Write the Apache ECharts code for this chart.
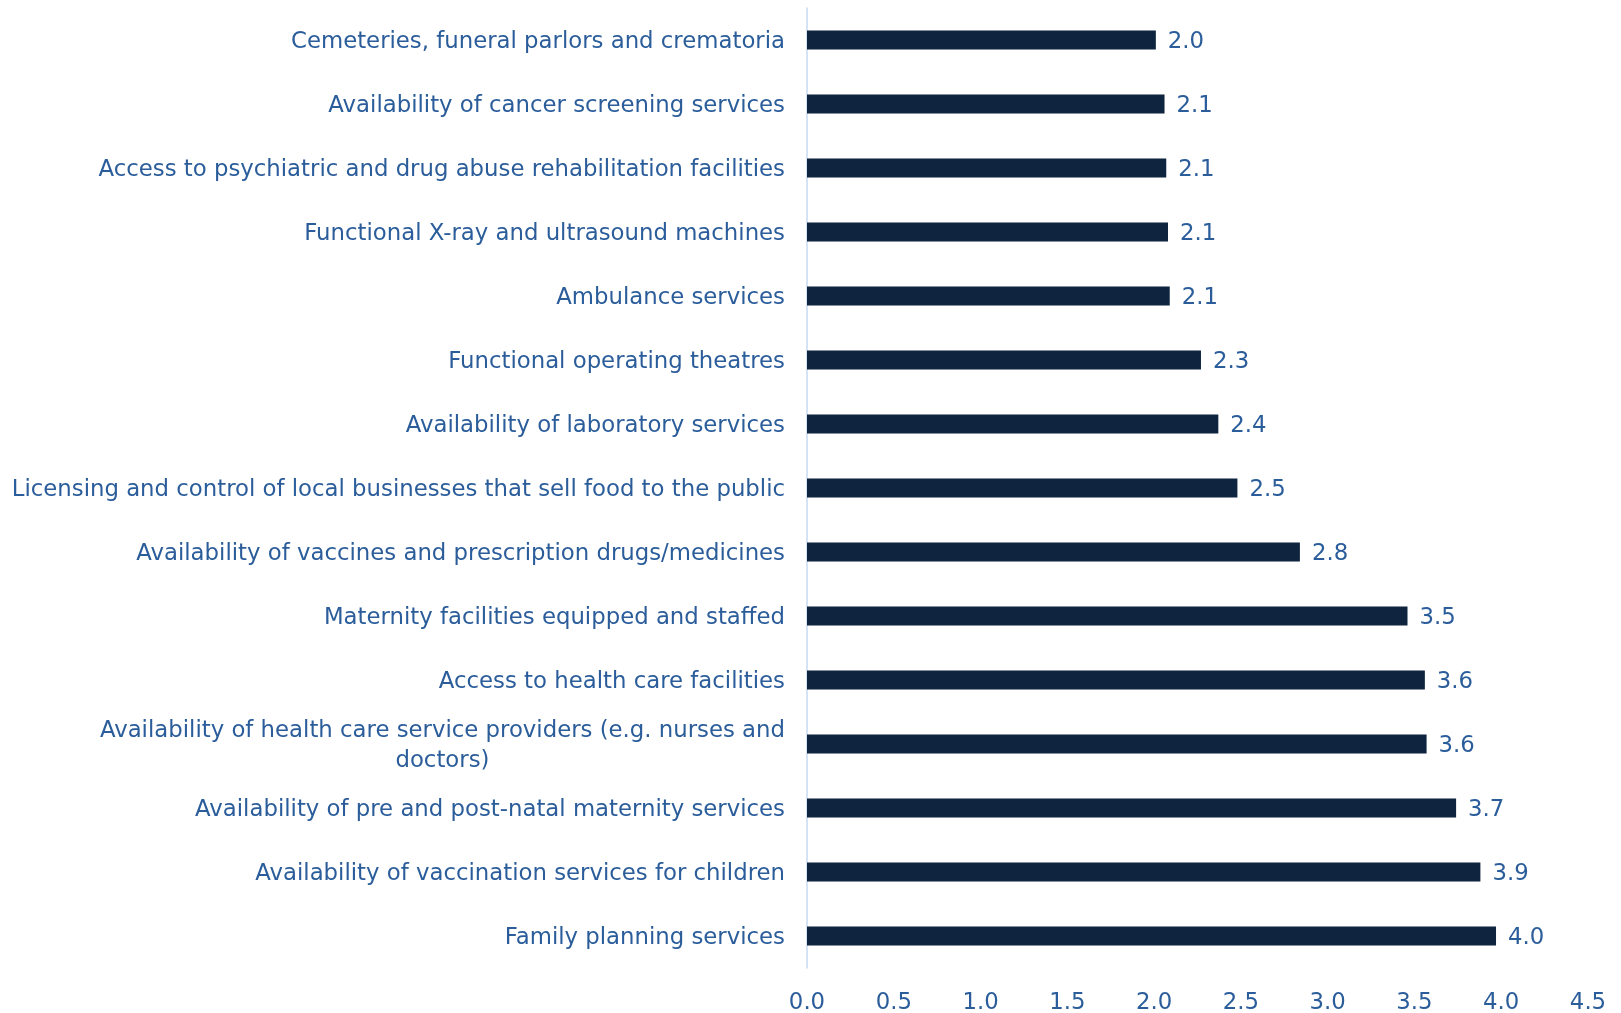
<!DOCTYPE html>
<html>
<head>
<meta charset="utf-8">
<script src="https://cdn.jsdelivr.net/npm/echarts@6/dist/echarts.min.js"></script>
<style>
  html, body { margin: 0; padding: 0; background: #fff; }
  #chart { width: 1621px; height: 1013px; }
</style>
</head>
<body>
<div id="chart"></div>
<script>
// categories from top to bottom
const categories = [
  'Cemeteries, funeral parlors and crematoria',
  'Availability of cancer screening services',
  'Access to psychiatric and drug abuse rehabilitation facilities',
  'Functional X-ray and ultrasound machines',
  'Ambulance services',
  'Functional operating theatres',
  'Availability of laboratory services',
  'Licensing and control of local businesses that sell food to the public',
  'Availability of vaccines and prescription drugs/medicines',
  'Maternity facilities equipped and staffed',
  'Access to health care facilities',
  'Availability of health care service providers (e.g. nurses and\ndoctors)',
  'Availability of pre and post-natal maternity services',
  'Availability of vaccination services for children',
  'Family planning services'
]
const values = [2.01, 2.06, 2.07, 2.08, 2.09, 2.27, 2.37, 2.48, 2.84, 3.46, 3.56, 3.57, 3.74, 3.88, 3.97]

const textColor = '#2b5d9b'
const barColor = '#0f243e'
const fontFamily = '"DejaVu Sans", sans-serif'
const fontSize = 22.8

let myChart = echarts.init(document.getElementById('chart'))
myChart.setOption({
  animation: false,
  grid: { left: 807, right: 33, top: 8, bottom: 45, containLabel: false, outerBoundsMode: 'none' },
  xAxis: {
    type: 'value',
    min: 0,
    max: 4.5,
    interval: 0.5,
    splitLine: { show: false },
    axisLine: { show: false },
    axisTick: { show: false },
    axisLabel: {
      margin: 24,
      color: textColor,
      fontSize: fontSize,
      fontFamily: fontFamily,
      formatter: v => v.toFixed(1)
    }
  },
  yAxis: {
    type: 'category',
    inverse: true,
    data: categories,
    axisLine: { show: true, lineStyle: { color: '#c5d9f1', width: 1.5 } },
    axisTick: { show: false },
    axisLabel: {
      margin: 22,
      padding: [4, 0, 0, 0],
      formatter: v => v.split('\n').map(s => '{c|' + s + '}').join('\n'),
      rich: {
        c: {
          align: 'center',
          color: textColor,
          fontSize: fontSize,
          fontFamily: fontFamily,
          lineHeight: 30
        }
      }
    }
  },
  series: [
    {
      type: 'bar',
      data: values,
      barWidth: 19,
      itemStyle: { color: barColor },
      label: {
        show: true,
        position: 'right',
        distance: 12,
        offset: [0, 2],
        color: textColor,
        fontSize: fontSize,
        fontFamily: fontFamily,
        formatter: p => p.value.toFixed(1)
      }
    }
  ]
})
</script>
</body>
</html>
